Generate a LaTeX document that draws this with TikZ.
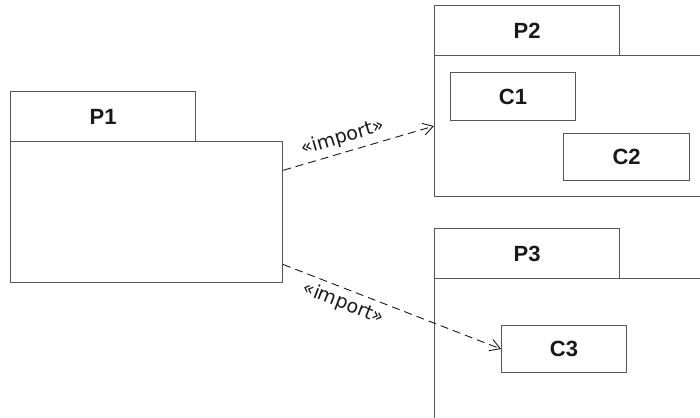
\documentclass[tikz,border=0pt]{standalone}
\usepackage{fontspec}
\setmainfont{Liberation Sans}
\newfontfamily\labelfont{DejaVu Sans}
\usetikzlibrary{arrows.meta}
\usepackage{xcolor}
\definecolor{boxline}{RGB}{85,85,85}
\definecolor{ink}{RGB}{25,25,25}

\begin{document}
\begin{tikzpicture}[x=1pt, y=-1pt,
    pkg/.style={draw=boxline, line width=1.1pt, anchor=north west, inner sep=0pt,
      font=\fontsize{22}{26}\selectfont\bfseries, text=ink},
    cls/.style={pkg},
    dep/.style={ink, line width=0.9pt, dash pattern=on 8pt off 5pt,
      -{Straight Barb[length=10pt, width=12pt, line width=0.9pt]}},
    stereo/.style={font=\labelfont\fontsize{19}{22}\selectfont, text=ink, sloped, inner sep=5pt}]
  \useasboundingbox (0,0) rectangle (700,417);
  \clip (0,0) rectangle (700,417);

  % package P1
  \node[pkg, minimum width=185, minimum height=50] (P1tab) at (10,91) {P1};
  \node[pkg, minimum width=272, minimum height=141] (P1body) at (10,141) {};

  % package P2 with C1, C2
  \node[pkg, minimum width=185, minimum height=50] (P2tab) at (434,5) {P2};
  \node[pkg, minimum width=300, minimum height=141] (P2body) at (434,55) {};
  \node[cls, minimum width=125, minimum height=48] (C1) at (450,72) {C1};
  \node[cls, minimum width=126, minimum height=47] (C2) at (563,133) {C2};

  % package P3 with C3
  \node[pkg, minimum width=185, minimum height=50] (P3tab) at (434,228) {P3};
  \node[pkg, minimum width=300, minimum height=170] (P3body) at (434,278) {};
  \node[cls, minimum width=125, minimum height=47] (C3) at (501,325) {C3};

  % imports
  \draw[dep] (P1body.17) -- node[stereo, above, pos=0.42] {«import»} (P2body.west);
  \draw[dep] (P1body.-21) -- node[stereo, below, pos=0.3] {«import»} (C3.west);
\end{tikzpicture}
\end{document}
